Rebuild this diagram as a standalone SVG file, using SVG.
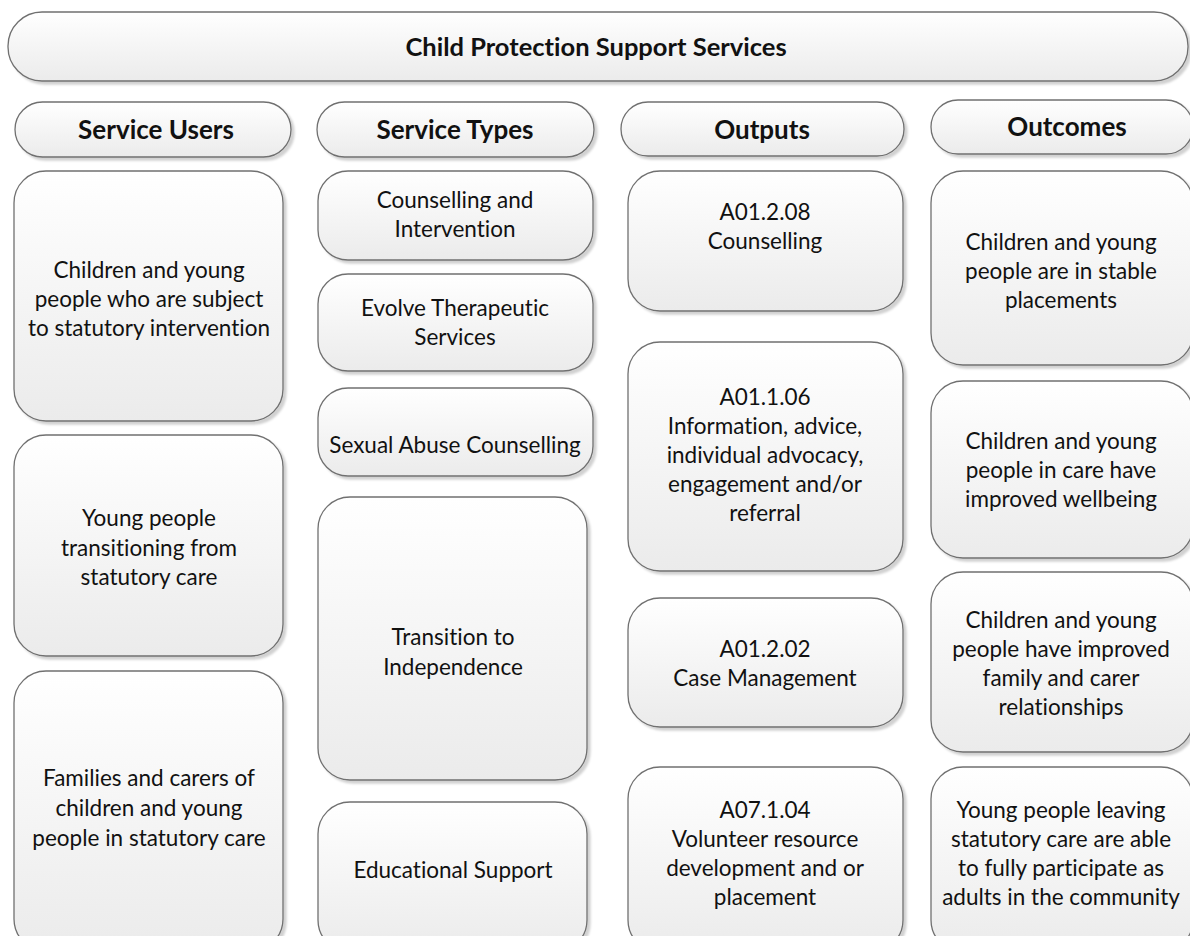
<svg xmlns="http://www.w3.org/2000/svg" width="1190" height="936" viewBox="0 0 1190 936">
<defs>
<linearGradient id="g" x1="0" y1="0" x2="0" y2="1">
<stop offset="0" stop-color="#ffffff"/>
<stop offset="1" stop-color="#ebebeb"/>
</linearGradient>
<filter id="sh" x="-5%" y="-5%" width="112%" height="115%">
<feDropShadow dx="3" dy="3" stdDeviation="1.2" flood-color="#000" flood-opacity="0.18"/>
</filter>
</defs>
<style>
.b{fill:url(#g);stroke:#707070;stroke-width:1.3;filter:url(#sh)}
text{font-family:Lato,"Liberation Sans",sans-serif;fill:#111;text-anchor:middle;font-variant-ligatures:none}
.t{font-size:22.5px}
.h{font-size:26px;font-weight:bold}
.tt{font-size:25.5px;font-weight:bold}
</style>
<rect width="1190" height="936" fill="#fff"/>
<g id="title"><rect class="b" x="8" y="12" width="1180" height="69" rx="34"/><text class="tt" x="596" y="56">Child Protection Support Services</text></g>
<g id="h-users"><rect class="b" x="15" y="102" width="276" height="55" rx="27.5"/><text class="h" x="156" y="139">Service Users</text></g>
<g id="h-types"><rect class="b" x="317" y="102" width="277" height="55" rx="27.5"/><text class="h" x="455" y="139">Service Types</text></g>
<g id="h-outputs"><rect class="b" x="621" y="102" width="283" height="54" rx="27"/><text class="h" x="762" y="139">Outputs</text></g>
<g id="h-outcomes"><rect class="b" x="931" y="100" width="262" height="54" rx="27"/><text class="h" x="1067" y="136">Outcomes</text></g>

<g id="su1"><rect class="b" x="14" y="171" width="269" height="250" rx="32"/><text class="t"><tspan x="149" y="278">Children and young</tspan><tspan x="149" y="307">people who are subject</tspan><tspan x="149" y="336">to statutory intervention</tspan></text></g>
<g id="su2"><rect class="b" x="14" y="435" width="269" height="221" rx="32"/><text class="t"><tspan x="149" y="526">Young people</tspan><tspan x="149" y="556">transitioning from</tspan><tspan x="149" y="585">statutory care</tspan></text></g>
<g id="su3"><rect class="b" x="14" y="671" width="269" height="280" rx="32"/><text class="t"><tspan x="149" y="786">Families and carers of</tspan><tspan x="149" y="816">children and young</tspan><tspan x="149" y="846">people in statutory care</tspan></text></g>

<g id="st1"><rect class="b" x="318" y="171" width="275" height="89" rx="30"/><text class="t"><tspan x="455" y="208">Counselling and</tspan><tspan x="455" y="237">Intervention</tspan></text></g>
<g id="st2"><rect class="b" x="318" y="274" width="275" height="97" rx="30"/><text class="t"><tspan x="455" y="316">Evolve Therapeutic</tspan><tspan x="455" y="345">Services</tspan></text></g>
<g id="st3"><rect class="b" x="318" y="388" width="275" height="88" rx="30"/><text class="t" x="455" y="453">Sexual Abuse Counselling</text></g>
<g id="st4"><rect class="b" x="318" y="497" width="269" height="283" rx="32"/><text class="t"><tspan x="453" y="645">Transition to</tspan><tspan x="453" y="675">Independence</tspan></text></g>
<g id="st5"><rect class="b" x="318" y="802" width="269" height="150" rx="32"/><text class="t" x="453" y="878">Educational Support</text></g>

<g id="o1"><rect class="b" x="628" y="171" width="275" height="140" rx="32"/><text class="t"><tspan x="765" y="220">A01.2.08</tspan><tspan x="765" y="249">Counselling</tspan></text></g>
<g id="o2"><rect class="b" x="628" y="342" width="275" height="229" rx="32"/><text class="t"><tspan x="765" y="405">A01.1.06</tspan><tspan x="765" y="434">Information, advice,</tspan><tspan x="765" y="463">individual advocacy,</tspan><tspan x="765" y="492">engagement and/or</tspan><tspan x="765" y="521">referral</tspan></text></g>
<g id="o3"><rect class="b" x="628" y="598" width="275" height="129" rx="32"/><text class="t"><tspan x="765" y="657">A01.2.02</tspan><tspan x="765" y="686">Case Management</tspan></text></g>
<g id="o4"><rect class="b" x="628" y="767" width="275" height="185" rx="32"/><text class="t"><tspan x="765" y="818">A07.1.04</tspan><tspan x="765" y="847">Volunteer resource</tspan><tspan x="765" y="876">development and or</tspan><tspan x="765" y="905">placement</tspan></text></g>

<g id="oc1"><rect class="b" x="931" y="171" width="262" height="194" rx="32"/><text class="t"><tspan x="1061" y="250">Children and young</tspan><tspan x="1061" y="279">people are in stable</tspan><tspan x="1061" y="308">placements</tspan></text></g>
<g id="oc2"><rect class="b" x="931" y="381" width="262" height="177" rx="32"/><text class="t"><tspan x="1061" y="449">Children and young</tspan><tspan x="1061" y="478">people in care have</tspan><tspan x="1061" y="507">improved wellbeing</tspan></text></g>
<g id="oc3"><rect class="b" x="931" y="572" width="262" height="180" rx="32"/><text class="t"><tspan x="1061" y="628">Children and young</tspan><tspan x="1061" y="657">people have improved</tspan><tspan x="1061" y="686">family and carer</tspan><tspan x="1061" y="715">relationships</tspan></text></g>
<g id="oc4"><rect class="b" x="931" y="767" width="262" height="185" rx="32"/><text class="t"><tspan x="1061" y="818">Young people leaving</tspan><tspan x="1061" y="847">statutory care are able</tspan><tspan x="1061" y="876">to fully participate as</tspan><tspan x="1061" y="905">adults in the community</tspan></text></g>
<g id="connectors"/>
</svg>
